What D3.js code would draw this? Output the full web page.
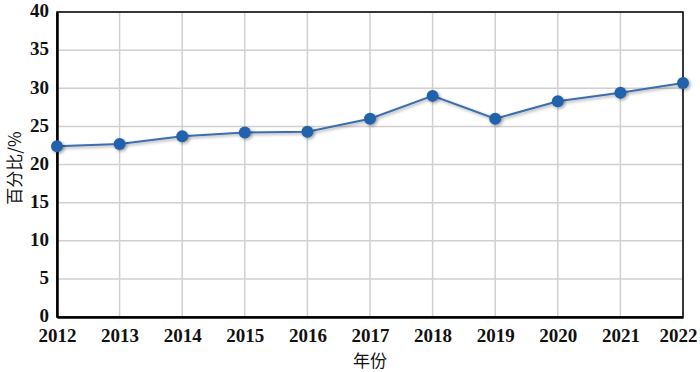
<!DOCTYPE html>
<html lang="zh-CN">
<head>
<meta charset="UTF-8">
<title>百分比</title>
<script src="https://cdnjs.cloudflare.com/ajax/libs/d3/7.8.5/d3.min.js"></script>
<style>
  body { margin: 0; background: #fff; }
  .tick text { font-family: "Liberation Serif", "DejaVu Serif", serif; font-weight: bold; font-size: 19px; fill: #111; }
  .title { font-family: "Noto Sans CJK SC", sans-serif; font-size: 17px; fill: #111; }
</style>
</head>
<body>
<svg width="700" height="372"></svg>
<script>
  // 数据
  const years = [2012, 2013, 2014, 2015, 2016, 2017, 2018, 2019, 2020, 2021, 2022];
  const values = [22.4, 22.7, 23.7, 24.2, 24.3, 26.0, 29.0, 26.0, 28.3, 29.4, 30.7];
  const yTicks = [0, 5, 10, 15, 20, 25, 30, 35, 40];

  const svg = d3.select("svg");
  const m = { left: 57, right: 17, top: 12, bottom: 55 };
  const W = 700, H = 372;

  const x = d3.scaleLinear().domain([2012, 2022]).range([m.left, W - m.right]);
  const y = d3.scaleLinear().domain([0, 40]).range([H - m.bottom, m.top]);

  const defs = svg.append("defs");
  const f = defs.append("filter").attr("id", "sh").attr("x", "-50%").attr("y", "-50%").attr("width", "200%").attr("height", "200%");
  f.append("feDropShadow").attr("dx", 1.5).attr("dy", 1.5).attr("stdDeviation", 1.5)
    .attr("flood-color", "#000").attr("flood-opacity", 0.35);

  // 网格
  svg.append("g").selectAll("line").data(yTicks).join("line")
    .attr("x1", m.left).attr("x2", W - m.right)
    .attr("y1", d => y(d)).attr("y2", d => y(d))
    .attr("stroke", "#d0d0d0").attr("stroke-width", 1.5);
  svg.append("g").selectAll("line").data(years).join("line")
    .attr("x1", d => x(d)).attr("x2", d => x(d))
    .attr("y1", m.top).attr("y2", H - m.bottom)
    .attr("stroke", "#d0d0d0").attr("stroke-width", 1.5);

  // 外框
  svg.append("rect").attr("x", m.left).attr("y", m.top)
    .attr("width", W - m.left - m.right).attr("height", H - m.top - m.bottom)
    .attr("fill", "none").attr("stroke", "#000").attr("stroke-width", 1.5);

  // 坐标轴
  const yAxis = svg.append("g").attr("transform", `translate(${m.left},0)`)
    .call(d3.axisLeft(y).tickValues(yTicks).tickSize(0).tickPadding(8));
  yAxis.select(".domain").attr("stroke", "#000").attr("stroke-width", 2.5);
  yAxis.selectAll(".tick text").attr("dy", "0.25em");

  const xAxis = svg.append("g").attr("transform", `translate(0,${H - m.bottom})`)
    .call(d3.axisBottom(x).tickValues(years).tickFormat(d3.format("d")).tickSize(0).tickPadding(12));
  xAxis.select(".domain").attr("stroke", "#000").attr("stroke-width", 2.5);
  // 最后一个标签贴右边
  xAxis.selectAll(".tick text").filter(d => d === 2022).attr("text-anchor", "end").attr("x", 14);

  // 折线
  const line = d3.line().x((d, i) => x(years[i])).y(d => y(d));
  svg.append("path").datum(values)
    .attr("d", line).attr("fill", "none")
    .attr("stroke", "#3d6eab").attr("stroke-width", 2)
    .attr("filter", "url(#sh)");

  svg.append("g").selectAll("circle").data(values).join("circle")
    .attr("cx", (d, i) => x(years[i])).attr("cy", d => y(d)).attr("r", 6)
    .attr("fill", "#2462ad").attr("filter", "url(#sh)");

  // 标题
  svg.append("text").attr("class", "title")
    .attr("x", 370).attr("y", 367)
    .attr("text-anchor", "middle").text("年份");
  svg.append("text").attr("class", "title")
    .attr("transform", `translate(21,168) rotate(-90)`)
    .attr("text-anchor", "middle").text("百分比/%");
</script>
</body>
</html>
